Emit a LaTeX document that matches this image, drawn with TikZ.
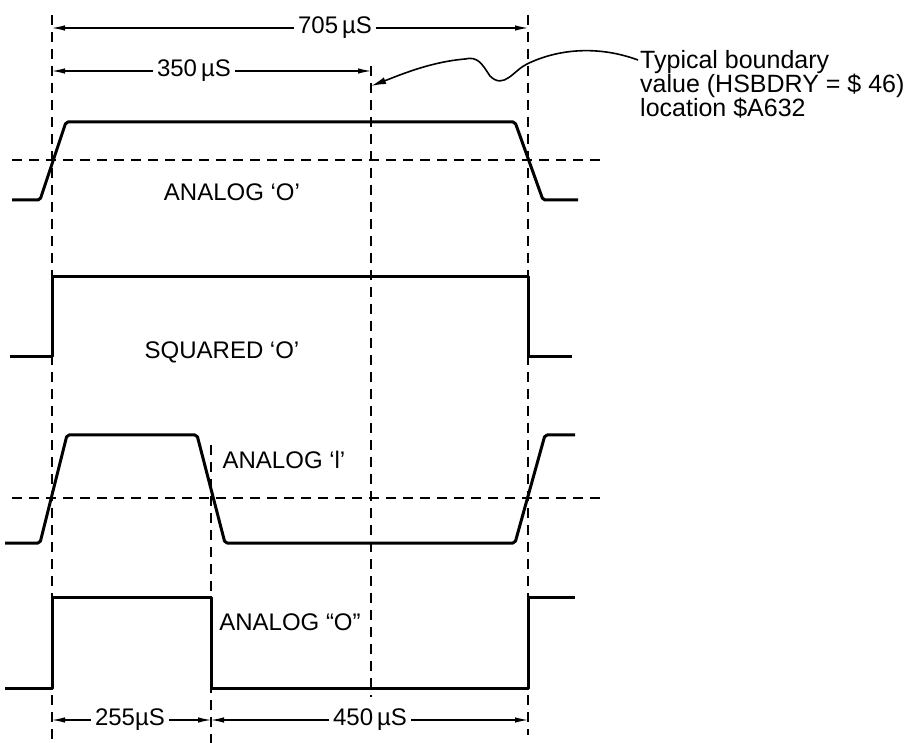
\documentclass[tikz,border=0pt]{standalone}
\usepackage{fontspec}
\setmainfont{Liberation Sans}
\usetikzlibrary{arrows.meta}

\tikzset{
  wave/.style={line width=3pt, line join=round, rounded corners=2pt},
  guide/.style={line width=1.3pt, dash pattern=on 10pt off 7pt},
  dimarrow/.style={line width=1.1pt, -{Latex[length=13pt,width=5.5pt]}},
  lbl/.style={font=\fontsize{24}{24}\selectfont, inner sep=4pt}
}

\begin{document}
\begin{tikzpicture}[x=1pt,y=-1pt]

\newcommand\XA{52}
\newcommand\XB{211}
\newcommand\XC{371}
\newcommand\XD{528}

\useasboundingbox (0,0) rectangle (906,743);

%% guide lines
\draw[guide] (\XA,15) -- (\XA,743);
\draw[guide] (\XB,445) -- (\XB,743);
\draw[guide] (\XC,66) -- (\XC,697);
\draw[guide] (\XD,15) -- (\XD,735);

\draw[guide] (12,160) -- (600,160);
\draw[guide] (12,498) -- (600,498);

%% analog "0"
\draw[wave] (12,200) -- (40,200) -- (66,122) -- (515,122) -- (543,200) -- (578,200);
\node[lbl] (ana0) at (232,192) {ANALOG ‘O’};

%% squared "0"
\draw[wave, rounded corners=0pt] (10,357) -- (\XA,357) -- (\XA,277) -- (\XD,277) -- (\XD,357) -- (572,357);
\node[lbl] (sq0) at (222,352) {SQUARED ‘O’};

%% analog "1"
\draw[wave] (5,543) -- (40,543) -- (67,435) -- (197,435) -- (225,543) -- (515,543) -- (545,435) -- (575,435);
\node[lbl] (ana1) at (284,460) {ANALOG ‘l’};

%% squared
\draw[wave, rounded corners=0pt] (5,688) -- (\XA,688) -- (\XA,597) -- (\XB,597) -- (\XB,688) -- (\XD,688) -- (\XD,597) -- (575,597);
\node[lbl] (sqa0) at (290,622) {ANALOG “O”};

%% dimensions
\node[lbl] (d705) at (335,28) {705\,µS};
\coordinate (d705l) at (\XA,28);
\coordinate (d705r) at (\XD,28);
\draw[dimarrow] (d705) -- (d705l);
\draw[dimarrow] (d705) -- (d705r);

\node[lbl] (d350) at (194,71) {350\,µS};
\coordinate (d350l) at (\XA,71);
\coordinate (d350r) at (\XC,71);
\draw[dimarrow] (d350) -- (d350l);
\draw[dimarrow] (d350) -- (d350r);

\node[lbl] (d255) at (130,720) {255µS};
\coordinate (d255l) at (\XA,720);
\coordinate (d255r) at (\XB,720);
\draw[dimarrow] (d255) -- (d255l);
\draw[dimarrow] (d255) -- (d255r);

\node[lbl] (d450) at (370,720) {450\,µS};
\coordinate (d450l) at (\XB,720);
\coordinate (d450r) at (\XD,720);
\draw[dimarrow] (d450) -- (d450l);
\draw[dimarrow] (d450) -- (d450r);

%% boundary note
\node[lbl, font=\fontsize{25}{24}\selectfont, anchor=north west, align=left] (note) at (636,46) {Typical boundary\\value (HSBDRY = \$ 46)\\location \$A632};
\coordinate (lead) at (638,60);
\coordinate (bnd) at (\XC,86);
\draw[line width=1.6pt, -{Latex[length=15pt,width=7pt]}] (lead) .. controls (600,46) and (560,48) .. (527,64)
  .. controls (514,70) and (504,90) .. (490,76) .. controls (482,64) and (478,56) .. (465,59)
  .. controls (430,62) and (400,75) .. (bnd);

\end{tikzpicture}
\end{document}
